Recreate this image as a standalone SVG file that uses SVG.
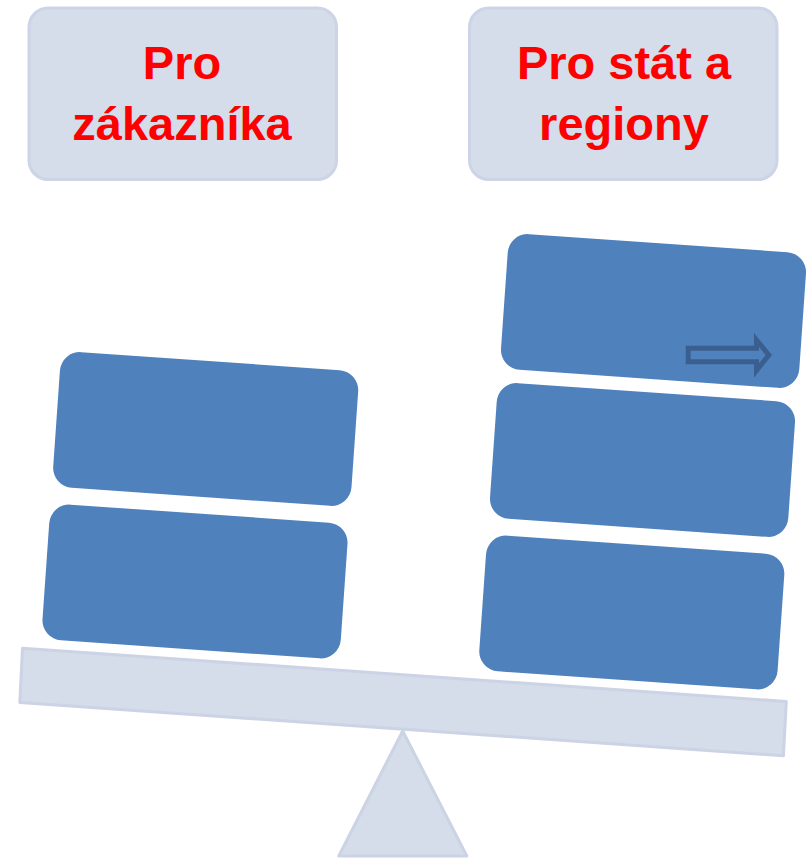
<svg xmlns="http://www.w3.org/2000/svg" width="808" height="861" viewBox="0 0 808 861">
  <style>
    .header { fill: #D5DCEA; stroke: #CCD4E6; stroke-width: 3; }
    .label { font-family: "Liberation Sans", Arial, sans-serif; font-weight: bold; font-size: 47px; fill: #FF0000; text-anchor: middle; }
    .block { fill: #4F81BD; }
    .scale { fill: #D5DCEA; stroke: #CBD3E5; stroke-width: 3; stroke-linejoin: round; }
    .arrow { fill: #4F81BD; stroke: #3A5F8F; stroke-width: 5; stroke-linejoin: miter; }
  </style>
  <rect width="808" height="861" fill="#FFFFFF"/>

  <g id="header-left">
    <rect class="header" x="29" y="8" width="307.5" height="171.5" rx="19"/>
    <text class="label" x="182" y="79">Pro</text>
    <text class="label" x="182" y="140">zákazníka</text>
  </g>

  <g id="header-right">
    <rect class="header" x="469.5" y="8" width="307.5" height="171.5" rx="19"/>
    <text class="label" x="624" y="79">Pro stát a</text>
    <text class="label" x="624" y="140">regiony</text>
  </g>

  <g id="fulcrum">
    <polygon class="scale" points="402.7,731 338.8,856 466.8,856"/>
  </g>

  <g id="beam">
    <polygon class="scale" points="22.5,648.2 786.3,701.5 783.4,755.8 19.8,702.5"/>
  </g>

  <g id="block-left-upper">
    <rect class="block" x="56.2" y="361" width="299" height="136" rx="20" transform="rotate(4 205.7 429)"/>
  </g>
  <g id="block-left-lower">
    <rect class="block" x="45.5" y="513.5" width="299" height="136" rx="20" transform="rotate(4 195 581.5)"/>
  </g>

  <g id="block-right-top">
    <rect class="block" x="504" y="243" width="299" height="136" rx="20" transform="rotate(4 653.5 311)"/>
    <path class="arrow" d="M688.2,348.3 H756.5 V340 L768.8,355 L756.5,370.5 V361.8 H688.2 Z"/>
  </g>
  <g id="block-right-middle">
    <rect class="block" x="493" y="392" width="299" height="136" rx="20" transform="rotate(4 642.5 460)"/>
  </g>
  <g id="block-right-bottom">
    <rect class="block" x="482.3" y="544.5" width="299" height="136" rx="20" transform="rotate(4 631.8 612.5)"/>
  </g>

  <g id="connectors"></g>
</svg>
